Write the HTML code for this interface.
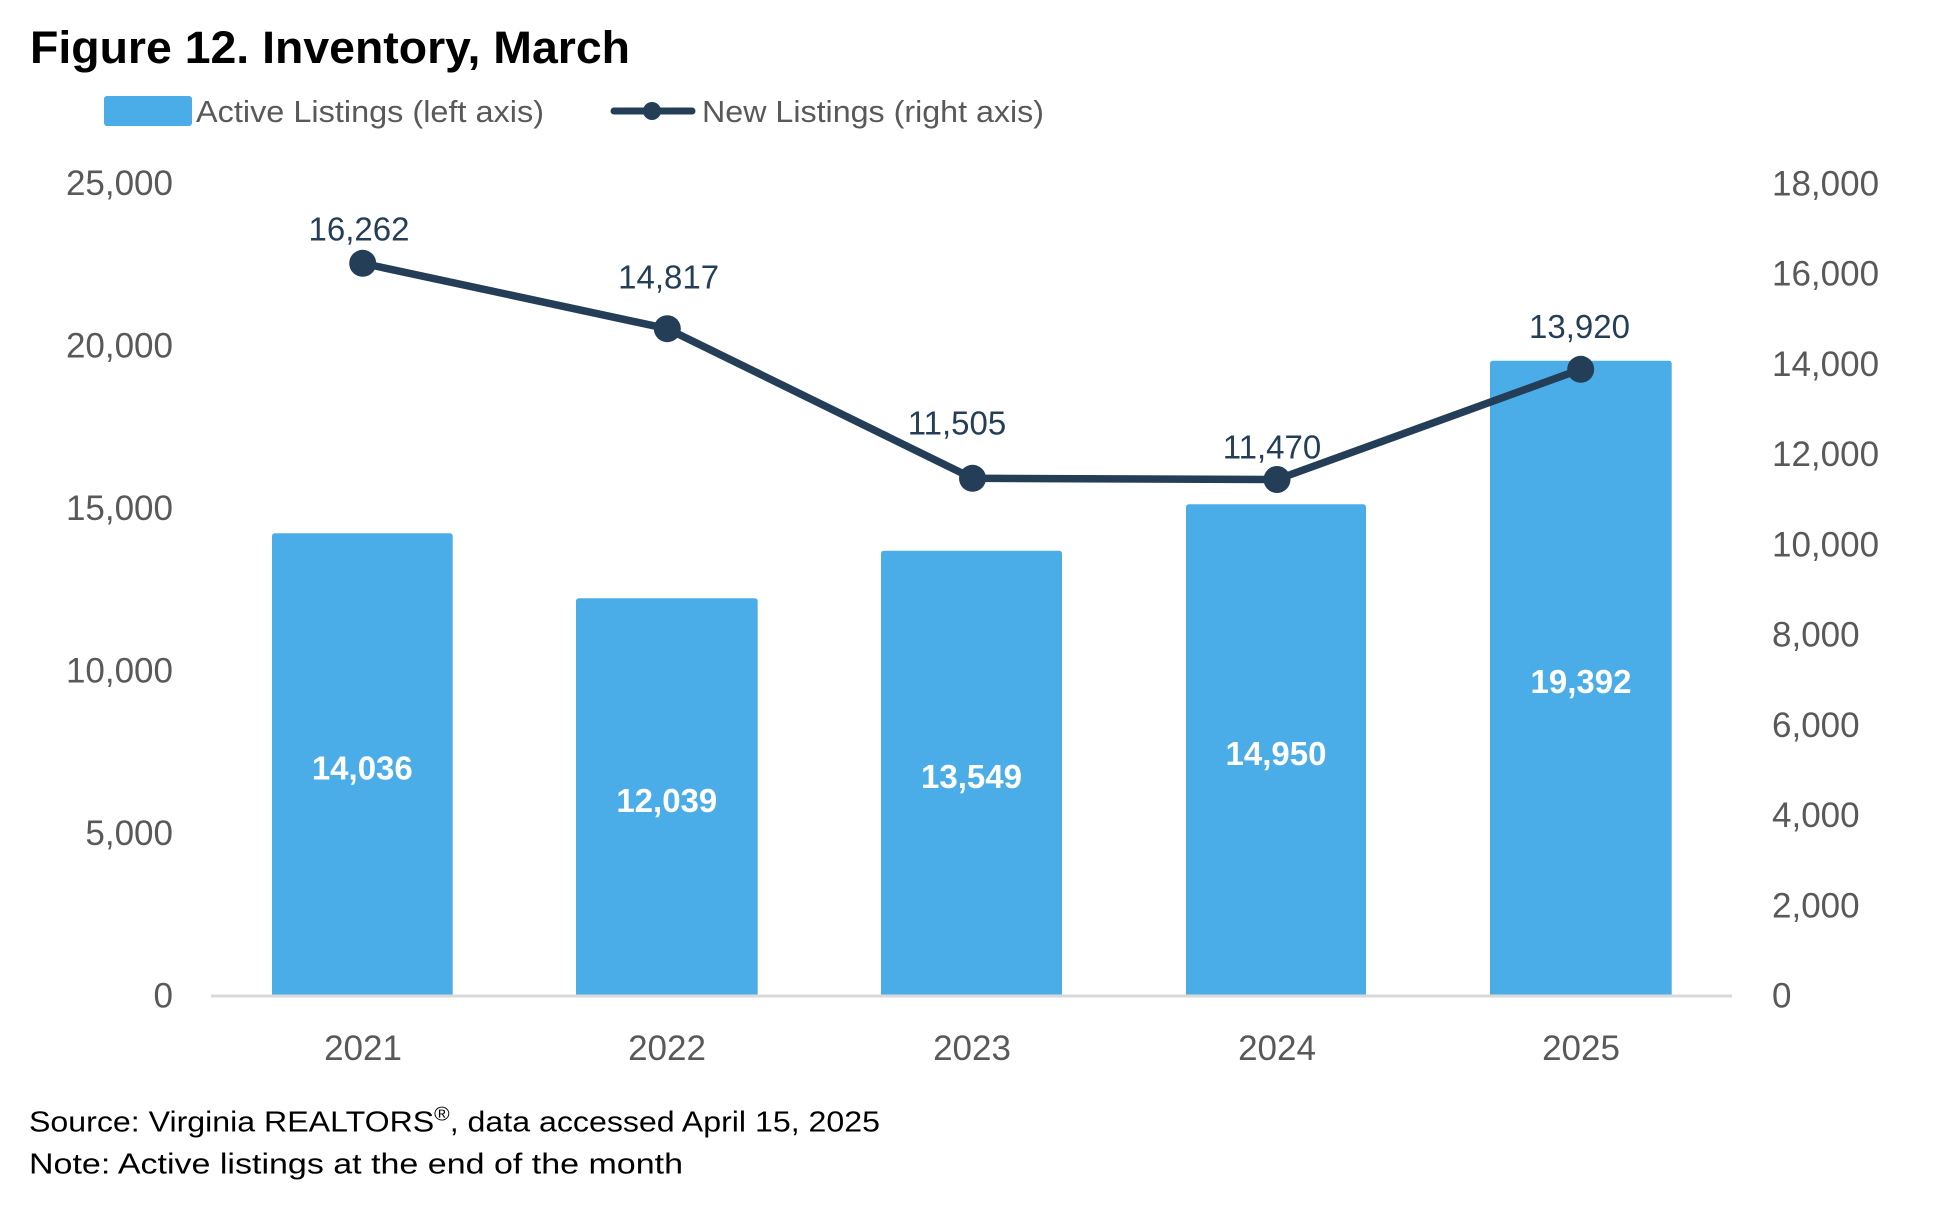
<!DOCTYPE html>
<html>
<head>
<meta charset="utf-8">
<style>
  html, body { margin: 0; padding: 0; background: #ffffff; }
  body { width: 1940px; height: 1222px; overflow: hidden; }
  svg { display: block; font-family: "Liberation Sans", "DejaVu Sans", sans-serif; }
</style>
</head>
<body>
<svg width="1940" height="1222" viewBox="0 0 1940 1222" xmlns="http://www.w3.org/2000/svg">
  <rect x="0" y="0" width="1940" height="1222" fill="#ffffff"/>

  <!-- Title -->
  <text x="30" y="63" font-size="45" font-weight="bold" fill="#000000" textLength="600" lengthAdjust="spacingAndGlyphs">Figure 12. Inventory, March</text>

  <!-- Legend -->
  <rect x="104" y="96" width="88" height="30" rx="3" ry="3" fill="#4BADE8"/>
  <text x="196" y="122" font-size="31" fill="#595959" textLength="348" lengthAdjust="spacingAndGlyphs">Active Listings (left axis)</text>
  <line x1="614" y1="111" x2="692" y2="111" stroke="#253E58" stroke-width="7" stroke-linecap="round"/>
  <circle cx="652" cy="111" r="9" fill="#253E58"/>
  <text x="702" y="122" font-size="31" fill="#595959" textLength="342" lengthAdjust="spacingAndGlyphs">New Listings (right axis)</text>

  <!-- Left axis labels -->
  <g font-size="35" fill="#595959" text-anchor="end">
    <text x="173" y="195.2">25,000</text>
    <text x="173" y="357.7">20,000</text>
    <text x="173" y="520.2">15,000</text>
    <text x="173" y="682.7">10,000</text>
    <text x="173" y="845.2">5,000</text>
    <text x="173" y="1007.7">0</text>
  </g>

  <!-- Right axis labels -->
  <g font-size="35" fill="#595959" text-anchor="start">
    <text x="1772" y="195.5">18,000</text>
    <text x="1772" y="285.7">16,000</text>
    <text x="1772" y="376.0">14,000</text>
    <text x="1772" y="466.2">12,000</text>
    <text x="1772" y="556.5">10,000</text>
    <text x="1772" y="646.7">8,000</text>
    <text x="1772" y="737.0">6,000</text>
    <text x="1772" y="827.2">4,000</text>
    <text x="1772" y="917.5">2,000</text>
    <text x="1772" y="1007.7">0</text>
  </g>

  <!-- Bars -->
  <g fill="#4BADE8">
    <path d="M272,995 L272,536.3 Q272,533.3 275,533.3 L449.7,533.3 Q452.7,533.3 452.7,536.3 L452.7,995 Z"/>
    <path d="M576,995 L576,601.3 Q576,598.3 579,598.3 L754.7,598.3 Q757.7,598.3 757.7,601.3 L757.7,995 Z"/>
    <path d="M881,995 L881,553.7 Q881,550.7 884,550.7 L1059,550.7 Q1062,550.7 1062,553.7 L1062,995 Z"/>
    <path d="M1186,995 L1186,507.3 Q1186,504.3 1189,504.3 L1363,504.3 Q1366,504.3 1366,507.3 L1366,995 Z"/>
    <path d="M1490,995 L1490,363.7 Q1490,360.7 1493,360.7 L1668.7,360.7 Q1671.7,360.7 1671.7,363.7 L1671.7,995 Z"/>
  </g>

  <!-- X axis line -->
  <rect x="211" y="994.5" width="1521" height="3" fill="#D9D9D9"/>

  <!-- Bar value labels -->
  <g font-size="33" font-weight="bold" fill="#ffffff" text-anchor="middle">
    <text x="362.3" y="779.5">14,036</text>
    <text x="666.8" y="812">12,039</text>
    <text x="971.5" y="788">13,549</text>
    <text x="1276" y="765">14,950</text>
    <text x="1581" y="693">19,392</text>
  </g>

  <!-- Category labels -->
  <g font-size="35" fill="#595959" text-anchor="middle">
    <text x="363" y="1060">2021</text>
    <text x="667" y="1060">2022</text>
    <text x="972" y="1060">2023</text>
    <text x="1277" y="1060">2024</text>
    <text x="1581" y="1060">2025</text>
  </g>

  <!-- New listings line -->
  <polyline points="362.7,263.3 667.3,328.7 972.5,478.3 1277,479.5 1580.7,369.3" fill="none" stroke="#253E58" stroke-width="7.5" stroke-linejoin="round"/>
  <g fill="#253E58">
    <circle cx="362.7" cy="263.3" r="13.5"/>
    <circle cx="667.3" cy="328.7" r="13.5"/>
    <circle cx="972.5" cy="478.3" r="13.5"/>
    <circle cx="1277" cy="479.5" r="13.5"/>
    <circle cx="1580.7" cy="369.3" r="13.5"/>
  </g>

  <!-- Line data labels -->
  <g font-size="33" fill="#253E58" text-anchor="middle">
    <text x="359" y="240.3">16,262</text>
    <text x="668.6" y="288.7">14,817</text>
    <text x="957" y="434.7">11,505</text>
    <text x="1272" y="458.7">11,470</text>
    <text x="1579.5" y="338">13,920</text>
  </g>

  <!-- Footnotes -->
  <text x="29" y="1131.7" font-size="29" fill="#000000" textLength="851" lengthAdjust="spacingAndGlyphs">Source: Virginia REALTORS<tspan font-size="19" dy="-11">®</tspan><tspan dy="11">, data accessed April 15, 2025</tspan></text>
  <text x="29" y="1173.3" font-size="29" fill="#000000" textLength="654" lengthAdjust="spacingAndGlyphs">Note: Active listings at the end of the month</text>
</svg>
</body>
</html>
